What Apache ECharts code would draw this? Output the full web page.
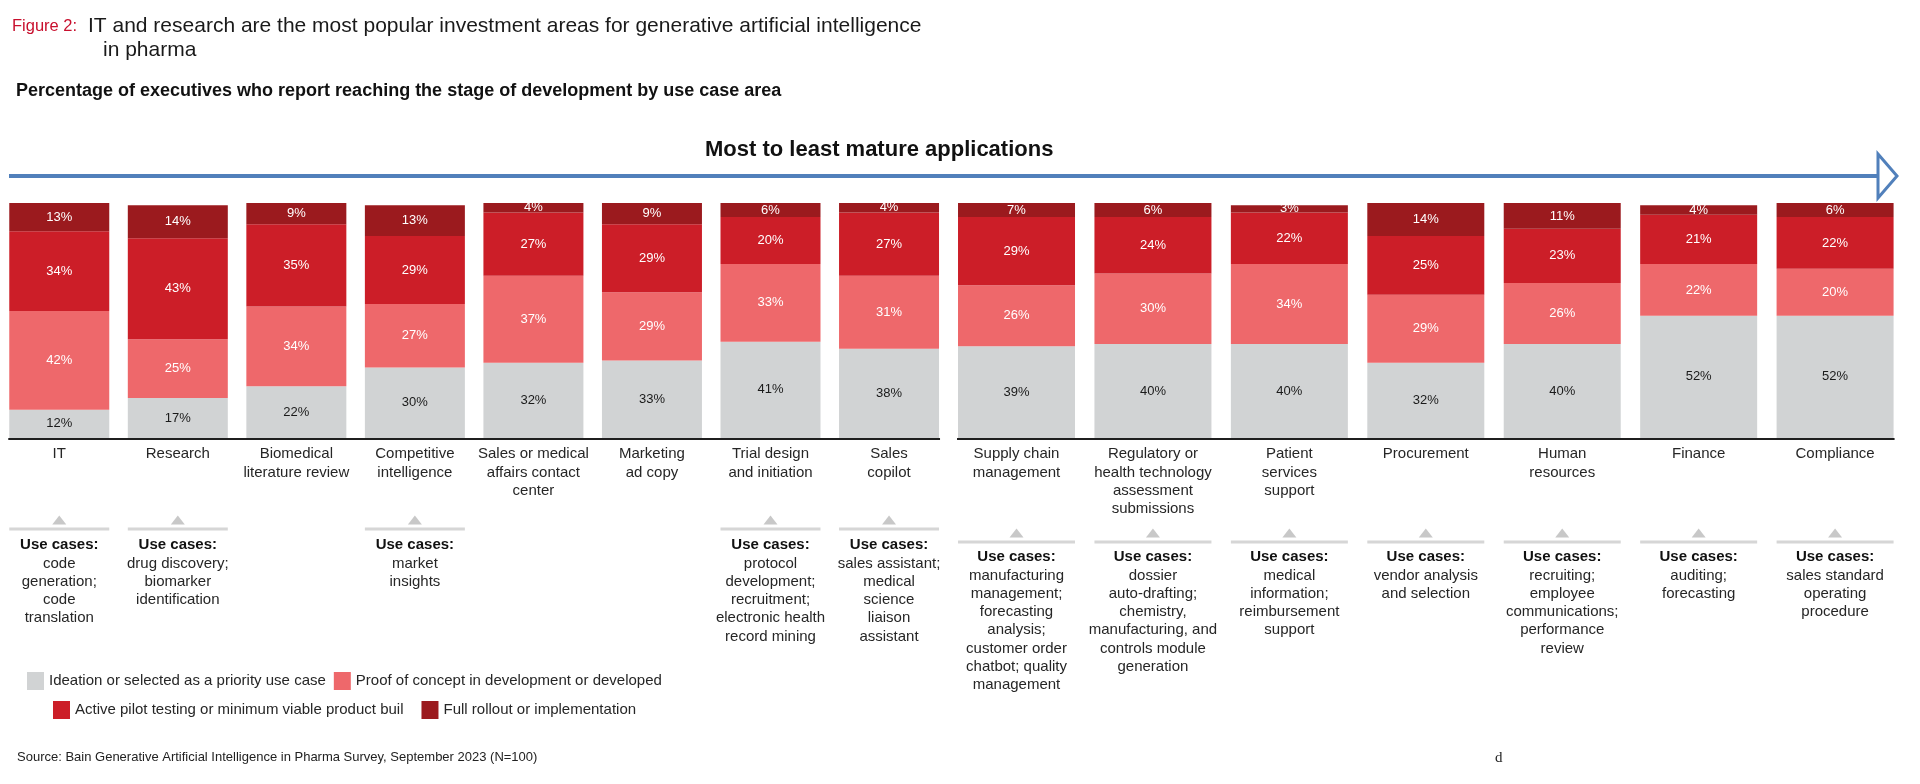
<!DOCTYPE html>
<html>
<head>
<meta charset="utf-8">
<title>GenAI in pharma</title>
<script src="https://cdn.jsdelivr.net/npm/echarts@6/dist/echarts.min.js"></script>
<style>
  html, body { margin: 0; padding: 0; background: #fff; }
  #chart { width: 1920px; height: 784px; }
</style>
</head>
<body>
<div id="chart"></div>
<script>
// categories, left panel (more mature) and right panel
const categoriesLeft = [
  "IT", "Research", "Biomedical\nliterature review", "Competitive\nintelligence",
  "Sales or medical\naffairs contact\ncenter", "Marketing\nad copy",
  "Trial design\nand initiation", "Sales\ncopilot"
];
const categoriesRight = [
  "Supply chain\nmanagement", "Regulatory or\nhealth technology\nassessment\nsubmissions",
  "Patient\nservices\nsupport", "Procurement", "Human\nresources", "Finance", "Compliance"
];

// percentages by stage
const ideationLeft = [12, 17, 22, 30, 32, 33, 41, 38];
const proofLeft = [42, 25, 34, 27, 37, 29, 33, 31];
const pilotLeft = [34, 43, 35, 29, 27, 29, 20, 27];
const rolloutLeft = [13, 14, 9, 13, 4, 9, 6, 4];

const ideationRight = [39, 40, 40, 32, 40, 52, 52];
const proofRight = [26, 30, 34, 29, 26, 22, 20];
const pilotRight = [29, 24, 22, 25, 23, 21, 22];
const rolloutRight = [7, 6, 3, 14, 11, 4, 6];

const useCasesLeft = [
  "code\ngeneration;\ncode\ntranslation",
  "drug discovery;\nbiomarker\nidentification",
  "",
  "market\ninsights",
  "",
  "",
  "protocol\ndevelopment;\nrecruitment;\nelectronic health\nrecord mining",
  "sales assistant;\nmedical\nscience\nliaison\nassistant"
];
const useCasesRight = [
  "manufacturing\nmanagement;\nforecasting\nanalysis;\ncustomer order\nchatbot; quality\nmanagement",
  "dossier\nauto-drafting;\nchemistry,\nmanufacturing, and\ncontrols module\ngeneration",
  "medical\ninformation;\nreimbursement\nsupport",
  "vendor analysis\nand selection",
  "recruiting;\nemployee\ncommunications;\nperformance\nreview",
  "auditing;\nforecasting",
  "sales standard\noperating\nprocedure"
];

const stageNames = [
  "Ideation or selected as a priority use case",
  "Proof of concept in development or developed",
  "Active pilot testing or minimum viable product buil",
  "Full rollout or implementation"
];
const stageColors = ["#d1d3d4", "#ee686b", "#cc1e28", "#9b1a1e"];

const FONT = "'Liberation Sans', Arial, sans-serif";
const leftBarWidth = 100;
const rightBarWidth = 117;

const chart = echarts.init(document.getElementById("chart"));

function nameAxis(gridIndex, data) {
  return {
    type: "category",
    gridIndex: gridIndex,
    position: "bottom",
    data: data,
    axisLine: { show: false },
    axisTick: { show: false },
    axisLabel: {
      interval: 0,
      margin: 7,
      fontFamily: FONT,
      fontSize: 15,
      lineHeight: 18.3,
      color: "#262626",
      align: "center"
    }
  };
}

function useAxis(gridIndex, data, uses, offset) {
  return {
    type: "category",
    gridIndex: gridIndex,
    position: "bottom",
    offset: offset,
    data: data,
    axisLine: { show: false },
    axisTick: { show: false },
    axisLabel: {
      interval: 0,
      margin: 6,
      align: "center",
      formatter: function (value, idx) {
        const txt = uses[idx];
        if (!txt) return "";
        return "{h|Use cases:}\n" + txt.split("\n").map(l => "{b|" + l + "}").join("\n");
      },
      rich: {
        h: { fontFamily: FONT, fontSize: 15, fontWeight: "bold", lineHeight: 18.3, color: "#111" },
        b: { fontFamily: FONT, fontSize: 15, lineHeight: 18.3, color: "#262626" }
      }
    }
  };
}

function stageSeries(xAxisIndex, yAxisIndex, stack, barWidth, lists) {
  return lists.map((vals, k) => ({
    name: stageNames[k],
    type: "bar",
    stack: stack,
    xAxisIndex: xAxisIndex,
    yAxisIndex: yAxisIndex,
    barWidth: barWidth,
    itemStyle: { color: stageColors[k] },
    label: {
      show: true,
      position: "inside",
      formatter: "{c}%",
      fontFamily: FONT,
      fontSize: 13,
      color: k === 0 ? "#1a1a1a" : "#ffffff"
    },
    data: vals
  }));
}

const option = {
  animation: false,
  backgroundColor: "#ffffff",
  title: [
    { text: "Figure 2:", left: 7, top: 13, textStyle: { fontFamily: FONT, fontSize: 16.5, fontWeight: "normal", color: "#c8102e" } },
    { text: "IT and research are the most popular investment areas for generative artificial intelligence", left: 83, top: 11, textStyle: { fontFamily: FONT, fontSize: 21, fontWeight: "normal", color: "#1a1a1a" } },
    { text: "in pharma", left: 98, top: 35, textStyle: { fontFamily: FONT, fontSize: 21, fontWeight: "normal", color: "#1a1a1a" } },
    { text: "Percentage of executives who report reaching the stage of development by use case area", left: 11, top: 77, textStyle: { fontFamily: FONT, fontSize: 18, fontWeight: "bold", color: "#111" } },
    { text: "Most to least mature applications", left: 700, top: 134, textStyle: { fontFamily: FONT, fontSize: 22, fontWeight: "bold", color: "#111" } },
    { text: "Source: Bain Generative Artificial Intelligence in Pharma Survey, September 2023 (N=100)", left: 12, top: 746, textStyle: { fontFamily: FONT, fontSize: 13, fontWeight: "normal", color: "#222" } },
    { text: "d", left: 1490, top: 746, textStyle: { fontFamily: "'Liberation Serif', serif", fontSize: 15, fontWeight: "normal", color: "#222" } }
  ],
  legend: [
    {
      data: stageNames.slice(0, 2),
      left: 22, top: 667,
      icon: "rect", itemWidth: 17, itemHeight: 18, itemGap: 8,
      selectedMode: false,
      textStyle: { fontFamily: FONT, fontSize: 15, color: "#262626" }
    },
    {
      data: stageNames.slice(2, 4),
      left: 48, top: 696,
      icon: "rect", itemWidth: 17, itemHeight: 18, itemGap: 18,
      selectedMode: false,
      textStyle: { fontFamily: FONT, fontSize: 15, color: "#262626" }
    }
  ],
  grid: [
    { left: -6.7, top: 203, width: 955, height: 235 },
    { left: 948.3, top: 203, width: 955, height: 235 }
  ],
  xAxis: [
    nameAxis(0, categoriesLeft),
    useAxis(0, categoriesLeft, useCasesLeft, 92),
    nameAxis(1, categoriesRight),
    useAxis(1, categoriesRight, useCasesRight, 104)
  ],
  yAxis: [
    { type: "value", gridIndex: 0, min: 0, max: 100, show: false },
    { type: "value", gridIndex: 1, min: 0, max: 100, show: false }
  ],
  series: [].concat(
    stageSeries(0, 0, "left", leftBarWidth, [ideationLeft, proofLeft, pilotLeft, rolloutLeft]),
    stageSeries(2, 1, "right", rightBarWidth, [ideationRight, proofRight, pilotRight, rolloutRight])
  )
};

chart.setOption(option);

// baseline, pointer triangles, separators and the maturity arrow
function buildGraphics() {
  const els = [];
  const groups = [
    { xAxisIndex: 0, yAxisIndex: 0, n: categoriesLeft.length, barW: leftBarWidth, uses: useCasesLeft, triY: 520, lineY: 529 },
    { xAxisIndex: 2, yAxisIndex: 1, n: categoriesRight.length, barW: rightBarWidth, uses: useCasesRight, triY: 533, lineY: 542 }
  ];
  groups.forEach(g => {
    const base = chart.convertToPixel({ yAxisIndex: g.yAxisIndex }, 0);
    const first = chart.convertToPixel({ xAxisIndex: g.xAxisIndex }, 0);
    const last = chart.convertToPixel({ xAxisIndex: g.xAxisIndex }, g.n - 1);
    els.push({
      type: "line",
      shape: { x1: first - g.barW / 2 - 1, y1: base + 1, x2: last + g.barW / 2 + 1, y2: base + 1 },
      style: { stroke: "#1f1f1f", lineWidth: 2 }
    });
    g.uses.forEach((u, i) => {
      if (!u) return;
      const cx = chart.convertToPixel({ xAxisIndex: g.xAxisIndex }, i);
      els.push({
        type: "polygon",
        shape: { points: [[cx - 7, g.triY + 4.5], [cx + 7, g.triY + 4.5], [cx, g.triY - 4.5]] },
        style: { fill: "#c8c8c8" }
      });
      els.push({
        type: "rect",
        shape: { x: cx - g.barW / 2, y: g.lineY - 1.5, width: g.barW, height: 3 },
        style: { fill: "#d6d6d6" }
      });
    });
  });
  els.push({
    type: "line",
    shape: { x1: 9, y1: 176, x2: 1878, y2: 176 },
    style: { stroke: "#5180bb", lineWidth: 4 }
  });
  els.push({
    type: "polygon",
    shape: { points: [[1878, 154], [1897, 176], [1878, 198]] },
    style: { fill: "#ffffff", stroke: "#5180bb", lineWidth: 3 }
  });
  chart.setOption({ graphic: els });
}

buildGraphics();
</script>
</body>
</html>
